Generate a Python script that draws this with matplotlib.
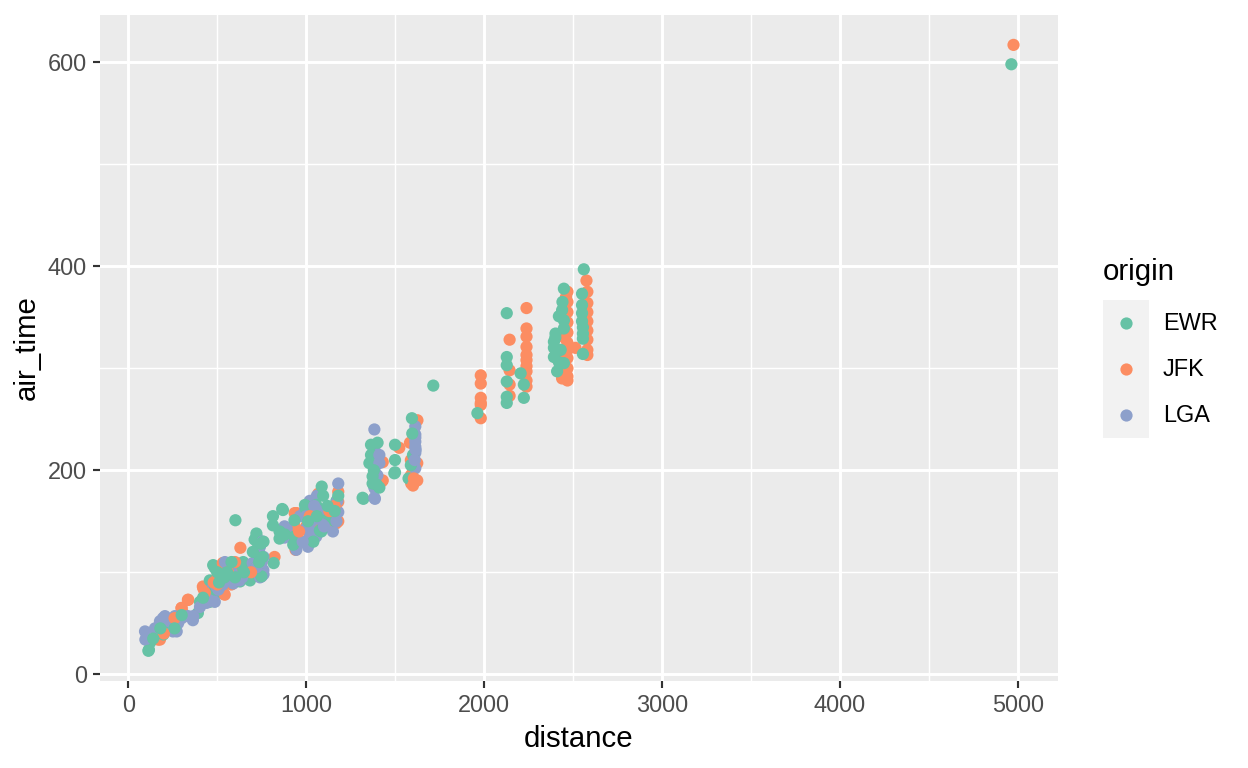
import numpy as np
import matplotlib.pyplot as plt

plt.rcParams['font.family'] = ['Liberation Sans', 'DejaVu Sans']

# categories and colours (ColorBrewer Set2)
origins = ['EWR', 'JFK', 'LGA']
origin_colors = ['#66C2A5', '#FC8D62', '#8DA0CB']

# values
ewr_distance = [116, 122, 113, 197, 206, 230, 250, 272, 290, 391, 403, 458, 458, 477, 487,
                487, 524, 534, 562, 587, 602, 618, 628, 636, 646, 663, 684, 710, 720, 721,
                720, 730, 730, 740, 740, 748, 760, 813, 813, 817, 850, 850, 865, 869, 880,
                927, 934, 934, 993, 1000, 1018, 1040, 1040, 1056, 1077, 1087, 1085, 1112, 1133, 1152,
                1170, 1317, 1321, 1355, 1364, 1364, 1373, 1373, 1380, 1396, 1401, 1411, 1495, 1499, 1499,
                1499, 1575, 1588, 1594, 1596, 1600, 1714, 1962, 2127, 2127, 2127, 2127, 2127, 2127, 2205,
                2223, 2223, 2392, 2392, 2392, 2400, 2401, 2410, 2420, 2420, 2430, 2438, 2440, 2448, 2448,
                2448, 2448, 2550, 2550, 2550, 2550, 2555, 2555, 2555, 2555, 2560, 4963,
                140, 180, 260, 300, 420, 500, 510, 540, 555, 580, 600, 650, 700, 735, 745,
                755, 1010, 1060, 1095, 1120, 1180, 1160]
ewr_air_time = [24, 31, 23, 39, 43, 47, 52, 50, 56, 60, 71, 71, 92, 107, 104,
                83, 81, 79, 106, 99, 151, 96, 91, 107, 110, 107, 92, 132, 138, 135,
                105, 125, 118, 107, 99, 96, 130, 155, 146, 109, 140, 133, 162, 161, 137,
                127, 151, 135, 166, 161, 153, 164, 130, 166, 141, 184, 140, 158, 156, 151,
                170, 173, 172, 207, 225, 215, 194, 187, 200, 186, 227, 183, 197, 225, 210,
                198, 192, 205, 251, 236, 215, 283, 256, 354, 311, 303, 287, 272, 266, 295,
                284, 271, 326, 320, 311, 330, 334, 297, 351, 306, 318, 357, 365, 378, 347,
                339, 305, 373, 362, 354, 346, 340, 334, 329, 314, 397, 598,
                35, 45, 45, 58, 75, 100, 90, 95, 100, 110, 95, 100, 120, 110, 128,
                115, 150, 155, 175, 165, 175, 160]

jfk_distance = [168, 178, 215, 225, 234, 299, 300, 307, 335, 337, 419, 422, 503, 514, 515,
                531, 534, 542, 579, 587, 590, 630, 654, 661, 721, 749, 755, 822, 935, 935,
                940, 940, 940, 946, 1000, 1050, 1068, 1084, 1086, 1100, 1140, 1168, 1180, 1180, 1180,
                1424, 1430, 1430, 1523, 1583, 1588, 1588, 1590, 1600, 1624, 1624, 1625, 1981, 1981, 1981,
                1981, 1981, 1981, 2143, 2143, 2143, 2143, 2238, 2238, 2238, 2238, 2238, 2238, 2238, 2238,
                2238, 2238, 2438, 2445, 2450, 2452, 2455, 2460, 2468, 2468, 2468, 2468, 2468, 2468, 2468,
                2468, 2468, 2468, 2468, 2513, 2575, 2580, 2580, 2580, 2580, 2580, 2580, 2580, 2580, 4975,
                200, 260, 430, 480, 500, 560, 600, 690, 960, 1020, 1130, 1160, 1600, 1605]
jfk_air_time = [34, 34, 50, 48, 47, 65, 65, 60, 73, 73, 86, 84, 96, 96, 94,
                109, 109, 78, 88, 106, 104, 124, 97, 96, 112, 110, 102, 115, 158, 145,
                135, 125, 122, 158, 145, 150, 177, 148, 146, 160, 151, 148, 179, 169, 150,
                189, 208, 190, 222, 227, 210, 195, 187, 200, 207, 190, 249, 266, 251, 293,
                285, 271, 264, 328, 298, 284, 273, 359, 339, 331, 321, 313, 308, 302, 297,
                288, 282, 290, 315, 360, 330, 300, 370, 375, 365, 355, 345, 335, 325, 318,
                310, 300, 292, 288, 320, 386, 375, 364, 355, 346, 337, 328, 318, 313, 617,
                40, 55, 80, 90, 88, 100, 110, 100, 140, 155, 160, 165, 185, 192]

lga_distance = [94, 96, 178, 195, 206, 251, 262, 272, 335, 363, 365, 403, 458, 477, 478,
                486, 495, 506, 515, 531, 543, 590, 607, 626, 665, 699, 731, 740, 740, 745,
                748, 749, 755, 759, 760, 878, 878, 878, 890, 944, 965, 993, 1000, 1010, 1019,
                1021, 1020, 1035, 1040, 1056, 1058, 1060, 1090, 1130, 1150, 1152, 1180, 1180, 1383, 1383,
                1383, 1383, 1383, 1386, 1386, 1400, 1411, 1411, 1613, 1613, 1613, 1613, 1613, 1613, 1613,
                150, 230, 280, 300, 440, 520, 560, 580, 640, 720, 735, 750, 760, 980, 1000,
                1030, 1045, 1070, 1100, 1175, 1170, 1610, 1615]
lga_air_time = [42, 34, 52, 55, 57, 42, 57, 42, 57, 53, 57, 66, 80, 86, 78,
                71, 86, 83, 86, 88, 110, 89, 92, 92, 107, 109, 114, 125, 95, 115,
                105, 96, 130, 102, 98, 145, 134, 143, 143, 122, 155, 161, 143, 125, 138,
                141, 170, 160, 135, 135, 156, 175, 150, 156, 140, 161, 187, 159, 240, 220,
                200, 183, 173, 172, 182, 195, 215, 207, 243, 235, 232, 228, 223, 217, 202,
                45, 52, 50, 55, 70, 92, 95, 100, 95, 105, 120, 110, 115, 130, 155,
                150, 165, 160, 145, 170, 150, 210, 220]

x_ticks = [0, 1000, 2000, 3000, 4000, 5000]
y_ticks = [0, 200, 400, 600]

series = [(ewr_distance, ewr_air_time), (jfk_distance, jfk_air_time), (lga_distance, lga_air_time)]

# interleave rows so the three origins overlap like in row order
xs, ys, cs = [], [], []
longest = max(len(d) for d, a in series)
for i in range(longest):
    for k, (d, a) in enumerate(series):
        if i < len(d):
            xs.append(d[i])
            ys.append(a[i])
            cs.append(origin_colors[k])

fig = plt.figure(figsize=(6.5, 4), dpi=192)
ax = fig.add_axes([100 / 1248, 1 - 681 / 768, 958 / 1248, 666 / 768])
ax.set_facecolor('#EBEBEB')
for s in ax.spines.values():
    s.set_visible(False)

ax.set_xlim(-159, 5225)
ax.set_ylim(-6.6, 646.3)
ax.set_xticks(x_ticks)
ax.set_yticks(y_ticks)
ax.set_xticks([500, 1500, 2500, 3500, 4500], minor=True)
ax.set_yticks([100, 300, 500], minor=True)
ax.grid(which='major', color='white', linewidth=1.1)
ax.grid(which='minor', color='white', linewidth=0.55)
ax.set_axisbelow(True)
ax.tick_params(which='major', length=2.75, width=0.8, color='#333333',
               labelsize=8.8, labelcolor='#4D4D4D', pad=2.2)
ax.tick_params(which='minor', length=0)

ax.scatter(xs, ys, c=cs, s=21, linewidths=0, zorder=3)

ax.set_xlabel('distance', fontsize=11, color='black', labelpad=2.75)
ax.set_ylabel('air_time', fontsize=11, color='black', labelpad=2.75)

# legend
fig.text(1103 / 1248, 1 - 272 / 768, 'origin', fontsize=11, ha='left', va='center')
lax = fig.add_axes([1103 / 1248, 1 - 438 / 768, 46 / 1248, 138 / 768])
lax.set_facecolor('#F2F2F2')
lax.set_xlim(0, 1)
lax.set_ylim(0, 3)
lax.set_xticks([])
lax.set_yticks([])
for s in lax.spines.values():
    s.set_visible(False)
for k, name in enumerate(origins):
    yk = 2.5 - k
    lax.scatter([0.5], [yk], color=origin_colors[k], s=21, linewidths=0)
    fig.text(1163 / 1248, (1 - 438 / 768) + (yk / 3) * (138 / 768), name,
             fontsize=8.8, ha='left', va='center')

fig.savefig('out.png', dpi=192)
